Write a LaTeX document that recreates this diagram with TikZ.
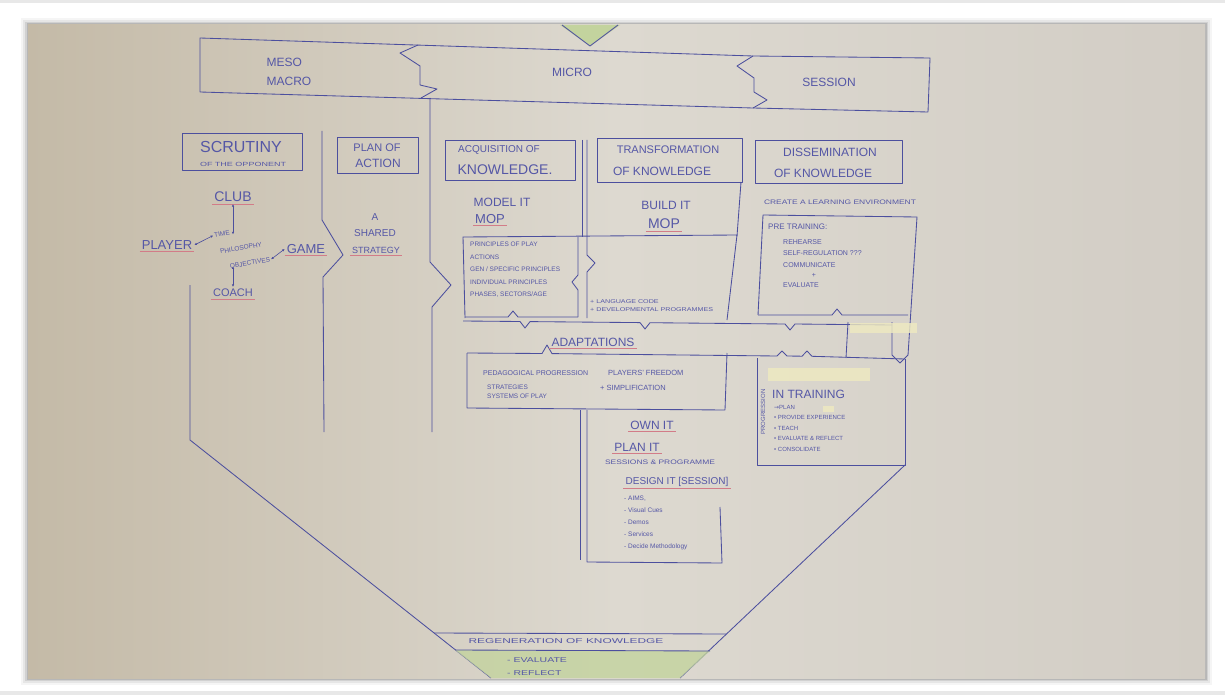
\documentclass[tikz,border=0pt]{standalone}
\usepackage{fontspec}
\setmainfont{Liberation Sans}
\newfontfamily\symfont{DejaVu Sans}
\usepackage{graphicx}
\usetikzlibrary{calc,arrows.meta}

\definecolor{ink}{HTML}{4C4F9E}
\definecolor{inktext}{HTML}{5557A6}
\definecolor{redline}{HTML}{D27C88}
\definecolor{paperL}{HTML}{C4BAA7}
\definecolor{paperM}{HTML}{DDD9D0}
\definecolor{paperR}{HTML}{D2CDC5}
\definecolor{moss}{HTML}{C3D39E}
\definecolor{hilite}{HTML}{EFEAC0}

% horizontally stretched handwriting
\newcommand\wide[2]{\scalebox{#1}[1]{#2}}

\tikzset{
  pen/.style={draw=ink, line width=0.85pt, line join=round},
  hw/.style={text=inktext, inner sep=2pt, font=\fontsize{#1}{#1}\selectfont},
  hw/.default=10,
  uline/.style={draw=redline, line width=1pt},
  dbl/.style={draw=ink, line width=0.6pt, {Latex[length=2.5pt,width=2.5pt]}-{Latex[length=2.5pt,width=2.5pt]}},
}
\newcommand\ul[1]{\draw[uline] (#1.south west) -- (#1.south east);}

\begin{document}
\begin{tikzpicture}[x=1pt,y=-1pt]
\useasboundingbox (0,0) rectangle (1225,695);
\fill[white] (0,0) rectangle (1225,695);
\fill[gray!18] (0,0) rectangle (1225,3);
\fill[gray!18] (0,691) rectangle (1225,695);

% photo shadow and paper
\foreach \d/\o in {7/0.04,5/0.06,3/0.09,1.5/0.12}{
  \fill[black,opacity=\o] (28-\d,25-\d) rectangle (1205+\d,678+\d);
}
\shade[left color=paperL, right color=paperR, middle color=paperM] (28,25) rectangle (1205,678);

% ---------- top funnel mouth ----------
\fill[moss] (560,25) -- (590,46) -- (620,25) -- cycle;
\draw[pen] (562,25) -- (590,46) -- (618,25);

% ---------- level band ----------
\draw[pen] (200,38) -- (753,56) -- (930,58) -- (928,112) -- (753,108) -- (200,92) -- cycle;
\draw[pen] (418,45) -- (400,53) -- (420,66) -- (420,85) -- (437,89) -- (421,98);
\draw[pen] (753,56) -- (737,66) -- (754,78) -- (754,92) -- (767,100) -- (753,108);
\node[hw=12, align=left, font=\fontsize{12}{19}\selectfont] (meso) at (289,72) {MESO\\MACRO};
\node[hw=12] (micro) at (572,72) {MICRO};
\node[hw=12] (session) at (829,82) {SESSION};

% ---------- column dividers and funnel walls ----------
\draw[pen] (430,98) -- (430,262) -- (451,285) -- (432,307) -- (432,432);
\draw[pen] (322,131) -- (322,220) -- (343,255) -- (323,277) -- (324,432);
\draw[pen] (190,285) -- (190,440) -- (491,678);
\draw[pen] (905,465) -- (680,678);

% ---------- scrutiny ----------
\draw[pen] (182,133) rectangle (302,170);
\node[hw=16] (scrut) at (241,147) {SCRUTINY};
\node[hw=6] (opp) at (243,164) {\wide{1.5}{OF THE OPPONENT}};
\node[hw=14] (club) at (233,197) {CLUB};
\node[hw=13] (player) at (167,245) {PLAYER};
\node[hw=13] (game) at (306,249) {GAME};
\node[hw=11] (coach) at (233,293) {COACH};
\node[hw=6.5, rotate=10, inner sep=1pt] (time) at (222,234) {TIME};
\node[hw=6.5, rotate=10, inner sep=1pt] (philo) at (241,248) {PHILOSOPHY};
\node[hw=6.5, rotate=10, inner sep=1pt] (obj) at (250,263) {OBJECTIVES};
\ul{club}\ul{player}\ul{game}\ul{coach}
\draw[dbl, shorten >=3pt] (club.south) -- (club.south |- time.south);
\draw[dbl] (coach.north |- obj.south) -- (coach.north);
\draw[dbl] (player.east) -- (time.west);
\draw[dbl] (obj.east) -- (game.west);

% ---------- plan of action ----------
\draw[pen] (337,137) rectangle (418,173);
\node[hw=11] (plan) at (377,148) {PLAN OF};
\node[hw=12] (action) at (378,163) {ACTION};
\node[hw=10] (shA) at (375,217) {A};
\node[hw=10] (shB) at (375,233) {SHARED};
\node[hw=9] (shC) at (376,250) {STRATEGY};
\ul{shC}

% ---------- acquisition ----------
\draw[pen] (445,140) rectangle (575,180);
\node[hw=10] (acq) at (499,150) {ACQUISITION OF};
\node[hw=14] (acqk) at (505,170) {KNOWLEDGE.};
\node[hw=12] (model) at (502,202) {MODEL IT};
\node[hw=13] (mop1) at (490,219) {MOP};
\ul{mop1}

% ---------- transformation ----------
\draw[pen] (597,138) rectangle (742,182);
\draw[pen] (582,140) -- (582,237);
\draw[pen] (587,140) -- (587,255) -- (595,263) -- (587,272) -- (587,318);
\draw[pen] (741,182) -- (737,236);
\node[hw=11] (trans) at (668,150) {TRANSFORMATION};
\node[hw=12] (transk) at (662,171) {OF KNOWLEDGE};
\node[hw=12] (build) at (666,205) {BUILD IT};
\node[hw=14] (mop2) at (664,224) {MOP};
\ul{mop2}

% principles / development box
\draw[pen] (465,318) -- (463,237) -- (737,235) -- (727,320);
\draw[pen] (578,237) -- (578,275) -- (572,282) -- (578,290) -- (578,317);
\draw[pen] (465,317) -- (508,317) -- (513,311) -- (518,317) -- (578,317);
\node[hw, font=\fontsize{6.5}{12.5}\selectfont, align=left, anchor=north west] (princ) at (468,240)
  {PRINCIPLES OF PLAY\\ACTIONS\\GEN / SPECIFIC PRINCIPLES\\INDIVIDUAL PRINCIPLES\\PHASES, SECTORS/AGE};
\node[hw, font=\fontsize{5.5}{8}\selectfont, align=left, anchor=north west] (lang) at (588,297)
  {\wide{1.3}{+ LANGUAGE CODE}\\\wide{1.3}{+ DEVELOPMENTAL PROGRAMMES}};

% ---------- dissemination ----------
\draw[pen] (755,140) rectangle (902,183);
\node[hw=12] (diss) at (830,152) {DISSEMINATION};
\node[hw=12] (dissk) at (823,173) {OF KNOWLEDGE};
\node[hw=6.5] (env) at (840,202) {\wide{1.3}{CREATE A LEARNING ENVIRONMENT}};
\draw[pen] (758,315) -- (763,215) -- (917,217) -- (908,355);
\draw[pen] (758,315) -- (832,315) -- (837,309) -- (842,315) -- (908,315);
\node[hw=8, anchor=west] (pre) at (766,227) {PRE TRAINING:};
\node[hw=7, anchor=west] (pre1) at (781,242) {REHEARSE};
\node[hw=7, anchor=west] (pre2) at (781,253) {SELF-REGULATION ???};
\node[hw=7, anchor=west] (pre3) at (781,265) {COMMUNICATE};
\node[hw=7] (pre4) at (814,275) {+};
\node[hw=7, anchor=west] (pre5) at (781,285) {EVALUATE};

% ---------- adaptations band ----------
\draw[pen] (463,321) -- (520,321.5) -- (525,328) -- (530,321.6) -- (640,322.6) -- (645,329) -- (650,322.7)
  -- (785,324) -- (790,330) -- (795,324) -- (892,325);
\draw[pen] (892,322) -- (892,355) -- (900,363) -- (908,355);
\draw[pen] (848,322) -- (846,358);
\draw[pen] (467,353) -- (542,353.5) -- (547,345) -- (552,353.6) -- (777,356) -- (782,351) -- (787,356)
  -- (802,356.2) -- (807,351) -- (812,356.3) -- (905,359);
\node[hw=12] (adapt) at (593,342) {ADAPTATIONS};
\ul{adapt}
\draw[pen] (467,353) -- (467,408) -- (725,410) -- (727,353);
\node[hw=7, anchor=west] (ped) at (481,373) {PEDAGOGICAL PROGRESSION};
\node[hw=7.5, anchor=west] (free) at (606,373) {PLAYERS' FREEDOM};
\node[hw, font=\fontsize{6.5}{9}\selectfont, align=left, anchor=west] (strat) at (485,392) {STRATEGIES\\SYSTEMS OF PLAY};
\node[hw=7.5, anchor=west] (simp) at (598,388) {+ SIMPLIFICATION};

% ---------- own it ----------
\draw[pen] (580,410) -- (580,560);
\draw[pen] (587,410) -- (587,562) -- (722,563) -- (720,507);
\node[hw=12] (own) at (652,425) {OWN IT};
\node[hw=12] (planit) at (637,447) {PLAN IT};
\node[hw=6.5] (sess) at (660,462) {\wide{1.3}{SESSIONS \& PROGRAMME}};
\node[hw=10] (design) at (677,482) {DESIGN IT [SESSION]};
\ul{own}\ul{planit}\ul{design}
\node[hw, font=\fontsize{6.5}{12}\selectfont, align=left, anchor=north west] (aims) at (622,494)
  {- AIMS,\\- Visual Cues\\- Demos\\- Services\\- Decide Methodology};

% ---------- in training ----------
\fill[hilite, opacity=0.8] (850,323) rectangle (917,333);
\fill[hilite, opacity=0.8] (768,368) rectangle (870,381);
\fill[hilite, opacity=0.8] (823,406) rectangle (834,412);
\draw[pen] (757,358) -- (757,465) -- (905,465) -- (905,359);
\node[hw=12, anchor=west] (intr) at (770,394) {IN TRAINING};
\node[hw, font=\fontsize{6}{10.5}\selectfont, align=left, anchor=north west] (intl) at (772,403)
  {{\symfont →}PLAN\\• PROVIDE EXPERIENCE\\• TEACH\\• EVALUATE \& REFLECT\\• CONSOLIDATE};
\node[hw=6, rotate=90] (prog) at (763,412) {PROGRESSION};

% ---------- regeneration ----------
\fill[moss, opacity=0.8] (455,650) -- (710,651) -- (680,678) -- (491,678) -- cycle;
\draw[pen] (434,633) -- (726,634);
\draw[pen] (455,650) -- (710,651);
\node[hw=7] (regen) at (566,641) {\wide{1.7}{REGENERATION OF KNOWLEDGE}};
\node[hw=7, anchor=west] (ev) at (505,660) {\wide{1.5}{- EVALUATE}};
\node[hw=7, anchor=west] (rf) at (505,673) {\wide{1.5}{- REFLECT}};
\end{tikzpicture}
\end{document}
